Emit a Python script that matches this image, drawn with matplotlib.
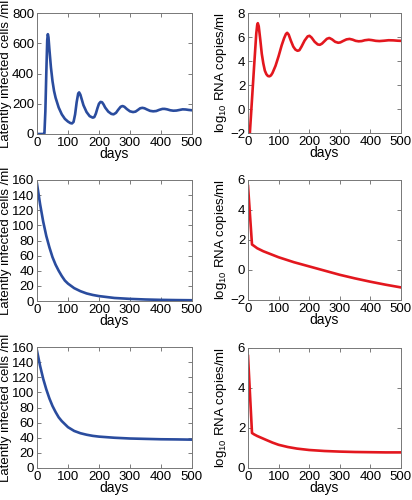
import matplotlib
matplotlib.use("Agg")
import matplotlib.pyplot as plt

plt.rcParams['font.family'] = ['Liberation Sans', 'DejaVu Sans']
plt.rcParams['mathtext.fontset'] = 'custom'
plt.rcParams['mathtext.rm'] = 'Liberation Sans'

# values
days_a = [0, 10, 20, 24, 27, 30, 33, 35, 37, 40, 45, 50, 55, 60, 70, 80, 90, 100, 108, 113,
          118, 123, 128, 133, 136, 140, 145, 150, 160, 170, 180, 185, 190, 195, 200, 205, 210,
          215, 220, 230, 240, 247, 255, 262, 270, 276, 282, 290, 300, 310, 318, 325, 333, 340,
          347, 355, 365, 375, 385, 395, 405, 412, 420, 430, 440, 450, 460, 470, 480, 490, 500]
cells_a = [0, 0, 0, 5, 150, 400, 620, 660, 640, 560, 440, 350, 285, 240, 175, 130, 100, 82, 72, 70,
           80, 130, 210, 268, 275, 260, 225, 190, 145, 118, 108, 112, 135, 170, 200, 212, 210,
           195, 175, 148, 133, 130, 140, 160, 180, 185, 180, 165, 150, 145, 148, 158, 170, 173,
           170, 162, 153, 150, 152, 160, 166, 166, 163, 157, 154, 155, 159, 163, 162, 159, 157]

days_b = [0, 6, 13, 20, 27, 30, 32, 35, 40, 45, 50, 55, 60, 65, 70, 75, 80, 90, 100, 110, 118,
          124, 128, 133, 140, 148, 155, 162, 168, 175, 185, 195, 201, 208, 218, 228, 235, 242,
          250, 258, 266, 275, 285, 295, 302, 312, 322, 332, 342, 352, 362, 372, 382, 395, 405,
          418, 430, 445, 460, 475, 490, 500]
rna_b = [-4.5, -2, 0.8, 3.6, 6.3, 7.0, 7.15, 6.9, 5.8, 4.6, 3.8, 3.2, 2.9, 2.75, 2.72, 2.8, 3.0,
         3.6, 4.4, 5.3, 5.9, 6.25, 6.35, 6.2, 5.7, 5.2, 4.95, 4.85, 4.9, 5.2, 5.7, 6.05, 6.1, 5.95,
         5.6, 5.38, 5.35, 5.45, 5.65, 5.85, 5.92, 5.8, 5.6, 5.52, 5.55, 5.68, 5.8, 5.84, 5.78,
         5.68, 5.64, 5.66, 5.73, 5.77, 5.74, 5.68, 5.66, 5.69, 5.73, 5.72, 5.69, 5.68]

days_c = [0, 10, 20, 30, 40, 50, 60, 70, 80, 90, 100, 120, 140, 160, 180, 200, 250, 300, 350,
          400, 450, 500]
cells_c = [155, 128, 105, 86, 71, 58, 48, 40, 33, 27, 23, 17, 13, 10, 8, 6.5, 4, 2.8, 2, 1.5, 1.2, 1.0]

days_d = [0, 13, 20, 30, 50, 75, 100, 150, 200, 250, 300, 350, 400, 450, 500]
rna_d = [5.6, 1.7, 1.6, 1.45, 1.25, 1.05, 0.85, 0.52, 0.24, -0.04, -0.32, -0.56, -0.78, -0.98, -1.16]

days_e = [0, 10, 20, 30, 40, 50, 60, 70, 80, 90, 100, 120, 140, 160, 180, 200, 250, 300, 350,
          400, 450, 500]
cells_e = [155, 135, 118, 104, 92, 82, 74, 67, 62, 58, 54, 49, 46, 44, 42.5, 41.5, 40, 39,
           38.5, 38, 37.8, 37.5]

days_f = [0, 13, 20, 30, 45, 60, 80, 100, 130, 160, 200, 250, 300, 350, 400, 450, 500]
rna_f = [5.6, 1.75, 1.68, 1.6, 1.5, 1.4, 1.27, 1.16, 1.05, 0.97, 0.9, 0.85, 0.82, 0.8, 0.79,
         0.78, 0.78]

blue = '#2a4c9e'
red = '#e3171e'
lab_cells = 'Latently infected cells /ml'
lab_rna = 'log$_{10}$ RNA copies/ml'

# (x, y, colour, ylabel, ylim, yticks, axes rect, ylabel x)
panels = [
    (days_a, cells_a, blue, lab_cells, (0, 800), range(0, 801, 200), [0.0898, 0.732, 0.376, 0.242], -0.16),
    (days_b, rna_b, red, lab_rna, (-2, 8), range(-2, 9, 2), [0.602, 0.734, 0.371, 0.24], -0.125),
    (days_c, cells_c, blue, lab_cells, (0, 160), range(0, 161, 20), [0.0898, 0.398, 0.376, 0.242], -0.16),
    (days_d, rna_d, red, lab_rna, (-2, 6), range(-2, 7, 2), [0.602, 0.40, 0.371, 0.24], -0.125),
    (days_e, cells_e, blue, lab_cells, (0, 160), range(0, 161, 20), [0.0898, 0.064, 0.376, 0.242], -0.16),
    (days_f, rna_f, red, lab_rna, (0, 6), range(0, 7, 2), [0.602, 0.064, 0.371, 0.24], -0.125),
]

fig = plt.figure(figsize=(4.12, 5.0), dpi=100)
for x, y, col, lab, ylim, yt, pos, lx in panels:
    ax = fig.add_axes(pos)
    ax.plot(x, y, color=col, lw=1.9)
    ax.set_xlim(0, 500)
    ax.set_ylim(*ylim)
    ax.set_xticks(range(0, 501, 100))
    ax.set_yticks(list(yt))
    ax.tick_params(direction='in', top=True, right=True, length=3, width=0.6,
                   color='#666666', labelsize=9.5)
    ax.tick_params(axis='x', pad=2)
    ax.tick_params(axis='y', pad=2)
    for s in ax.spines.values():
        s.set_color('#777777')
        s.set_linewidth(0.7)
    ax.set_xlabel('days', fontsize=10, labelpad=-1)
    ax.set_ylabel(lab, fontsize=9.5)
    ax.yaxis.set_label_coords(lx, 0.5)

fig.savefig('out.png', dpi=100)
